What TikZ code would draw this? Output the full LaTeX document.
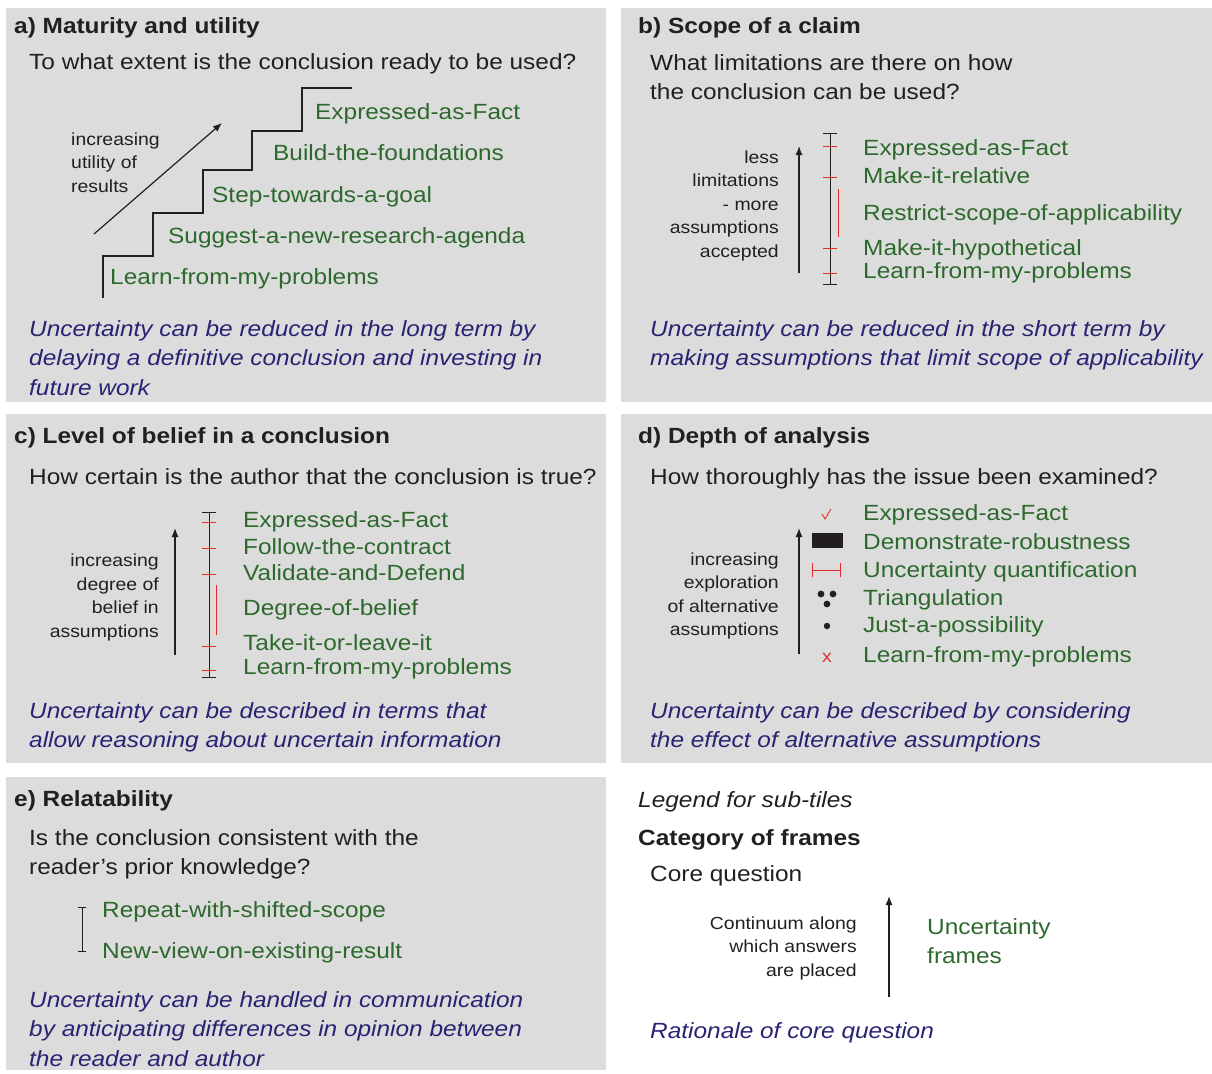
\documentclass[tikz,border=0pt]{standalone}
\usepackage{fontspec}
\setmainfont[FakeStretch=1.11]{Liberation Sans}
\usetikzlibrary{arrows.meta}
\definecolor{tilegray}{RGB}{220,220,220}
\definecolor{framegreen}{RGB}{45,105,45}
\definecolor{ratblue}{RGB}{40,35,115}
\definecolor{tickred}{RGB}{225,45,45}
\definecolor{inkblack}{RGB}{35,31,32}

\begin{document}
\begin{tikzpicture}[x=1pt,y=-1pt,
    title/.style={anchor=base west,inner sep=0,text=inkblack,font=\fontsize{22}{29.5}\selectfont\bfseries},
    question/.style={anchor=base west,inner sep=0,align=left,text=inkblack,font=\fontsize{22}{29.5}\selectfont},
    frame/.style={anchor=base west,inner sep=0,text=framegreen,font=\fontsize{22}{29.5}\selectfont},
    hint/.style={inner sep=0,text=inkblack,font=\fontsize{17.5}{23.5}\selectfont},
    rationale/.style={anchor=base west,inner sep=0,align=left,text=ratblue,font=\fontsize{22}{29.5}\selectfont\itshape},
    axis/.style={arrows={-{Latex[length=9pt,width=7pt]}},line width=1.2pt,inkblack},
    bar/.style={line width=1pt,inkblack},
    tick/.style={line width=1pt,tickred}]
  \useasboundingbox (0,0) rectangle (1212,1073);

  % tiles
  \fill[tilegray] (6,8) rectangle (606,402);
  \fill[tilegray] (621,8) rectangle (1212,402);
  \fill[tilegray] (6,414) rectangle (606,763);
  \fill[tilegray] (621,414) rectangle (1212,763);
  \fill[tilegray] (6,777) rectangle (606,1070);

  % a) maturity
  \node[title] (a-title) at (14,34) {a) Maturity and utility};
  \node[question] (a-quest) at (29,70) {To what extent is the conclusion ready to be used?};
  \draw[line width=2.5pt,inkblack] (103,298) |- (153,256) |- (203,213) |- (252,170) |- (302,131) |- (352,88);
  \coordinate (a-lo) at (94,234);
  \coordinate (a-hi) at (222,123);
  \draw[axis] (a-lo) -- (a-hi);
  \node[hint,anchor=base west,align=left] (a-hint) at (71,192) {increasing\\utility of\\results};
  \node[frame] (a-fact) at (315,119) {Expressed-as-Fact};
  \node[frame] (a-found) at (273,160) {Build-the-foundations};
  \node[frame] (a-goal) at (212,202) {Step-towards-a-goal};
  \node[frame] (a-agenda) at (168,243) {Suggest-a-new-research-agenda};
  \node[frame] (a-learn) at (110,284) {Learn-from-my-problems};
  \node[rationale] (a-why) at (29,395) {Uncertainty can be reduced in the long term by\\delaying a definitive conclusion and investing in\\future work};

  % b) scope
  \node[title] (b-title) at (638,34) {b) Scope of a claim};
  \node[question] (b-quest) at (650,99.5) {What limitations are there on how\\the conclusion can be used?};
  \node[hint,anchor=base east,align=right] (b-hint) at (779,257) {less\\limitations\\- more\\assumptions\\accepted};
  \coordinate (b-lo) at (799,273);
  \coordinate (b-hi) at (799,146);
  \draw[axis] (b-lo) -- (b-hi);
  \draw[bar] (830,133) -- (830,284);
  \draw[bar] (823,133) -- (837,133);
  \draw[bar] (823,284) -- (837,284);
  \foreach \y in {146,177,248,273}
    \draw[tick] (823,\y) -- (837,\y);
  \draw[tick] (838,189) -- (838,237);
  \node[frame] (b-fact) at (863,155) {Expressed-as-Fact};
  \node[frame] (b-rel) at (863,183) {Make-it-relative};
  \node[frame] (b-scope) at (863,220) {Restrict-scope-of-applicability};
  \node[frame] (b-hyp) at (863,255) {Make-it-hypothetical};
  \node[frame] (b-learn) at (863,278) {Learn-from-my-problems};
  \node[rationale] (b-why) at (650,365.5) {Uncertainty can be reduced in the short term by\\making assumptions that limit scope of applicability};

  % c) belief
  \node[title] (c-title) at (14,443) {c) Level of belief in a conclusion};
  \node[question] (c-quest) at (29,484) {How certain is the author that the conclusion is true?};
  \node[hint,anchor=base east,align=right] (c-hint) at (159,637) {increasing\\degree of\\belief in\\assumptions};
  \coordinate (c-lo) at (175,655);
  \coordinate (c-hi) at (175,528);
  \draw[axis] (c-lo) -- (c-hi);
  \draw[bar] (209,512) -- (209,677);
  \draw[bar] (202,512) -- (216,512);
  \draw[bar] (202,677) -- (216,677);
  \foreach \y in {522,548,574,646,670}
    \draw[tick] (202,\y) -- (216,\y);
  \draw[tick] (216,585) -- (216,635);
  \node[frame] (c-fact) at (243,527) {Expressed-as-Fact};
  \node[frame] (c-contract) at (243,554) {Follow-the-contract};
  \node[frame] (c-valid) at (243,580) {Validate-and-Defend};
  \node[frame] (c-degree) at (243,615) {Degree-of-belief};
  \node[frame] (c-take) at (243,650) {Take-it-or-leave-it};
  \node[frame] (c-learn) at (243,674) {Learn-from-my-problems};
  \node[rationale] (c-why) at (29,747.5) {Uncertainty can be described in terms that\\allow reasoning about uncertain information};

  % d) depth
  \node[title] (d-title) at (638,443) {d) Depth of analysis};
  \node[question] (d-quest) at (650,484) {How thoroughly has the issue been examined?};
  \node[hint,anchor=base east,align=right] (d-hint) at (779,635.5) {increasing\\exploration\\of alternative\\assumptions};
  \coordinate (d-lo) at (799,654);
  \coordinate (d-hi) at (799,528);
  \draw[axis] (d-lo) -- (d-hi);
  \draw[tick,line width=0.9pt] (822,514) -- (825,519) -- (831,509);
  \fill[inkblack] (812,533) rectangle (843,548);
  \draw[tick] (812,570) -- (840,570);
  \draw[tick] (812,563) -- (812,577);
  \draw[tick] (840,563) -- (840,577);
  \fill[inkblack] (821,594) circle (3.4) (833,594) circle (3.4) (827,604) circle (3.4);
  \fill[inkblack] (827,626) circle (3.2);
  \node[hint,text=tickred,anchor=base] (d-cross) at (827,662) {x};
  \node[frame] (d-fact) at (863,520) {Expressed-as-Fact};
  \node[frame] (d-robust) at (863,549) {Demonstrate-robustness};
  \node[frame] (d-quant) at (863,577) {Uncertainty quantification};
  \node[frame] (d-tri) at (863,605) {Triangulation};
  \node[frame] (d-just) at (863,632) {Just-a-possibility};
  \node[frame] (d-learn) at (863,662) {Learn-from-my-problems};
  \node[rationale] (d-why) at (650,747.5) {Uncertainty can be described by considering\\the effect of alternative assumptions};

  % e) relatability
  \node[title] (e-title) at (14,806) {e) Relatability};
  \node[question] (e-quest) at (29,874.5) {Is the conclusion consistent with the\\reader’s prior knowledge?};
  \draw[bar] (82,907) -- (82,951);
  \draw[bar] (78,907) -- (86,907);
  \draw[bar] (78,951) -- (86,951);
  \node[frame] (e-repeat) at (102,917) {Repeat-with-shifted-scope};
  \node[frame] (e-view) at (102,958) {New-view-on-existing-result};
  \node[rationale] (e-why) at (29,1066) {Uncertainty can be handled in communication\\by anticipating differences in opinion between\\the reader and author};

  % legend
  \node[question,font=\fontsize{22}{29.5}\selectfont\itshape] (l-head) at (638,807) {Legend for sub-tiles};
  \node[title] (l-title) at (638,845) {Category of frames};
  \node[question] (l-quest) at (650,881) {Core question};
  \node[hint,anchor=base east,align=right] (l-hint) at (857,976) {Continuum along\\which answers\\are placed};
  \coordinate (l-lo) at (889,997);
  \coordinate (l-hi) at (889,896);
  \draw[axis] (l-lo) -- (l-hi);
  \node[frame,align=left] (l-frames) at (927,963.5) {Uncertainty\\frames};
  \node[rationale] (l-why) at (650,1038) {Rationale of core question};
\end{tikzpicture}
\end{document}
